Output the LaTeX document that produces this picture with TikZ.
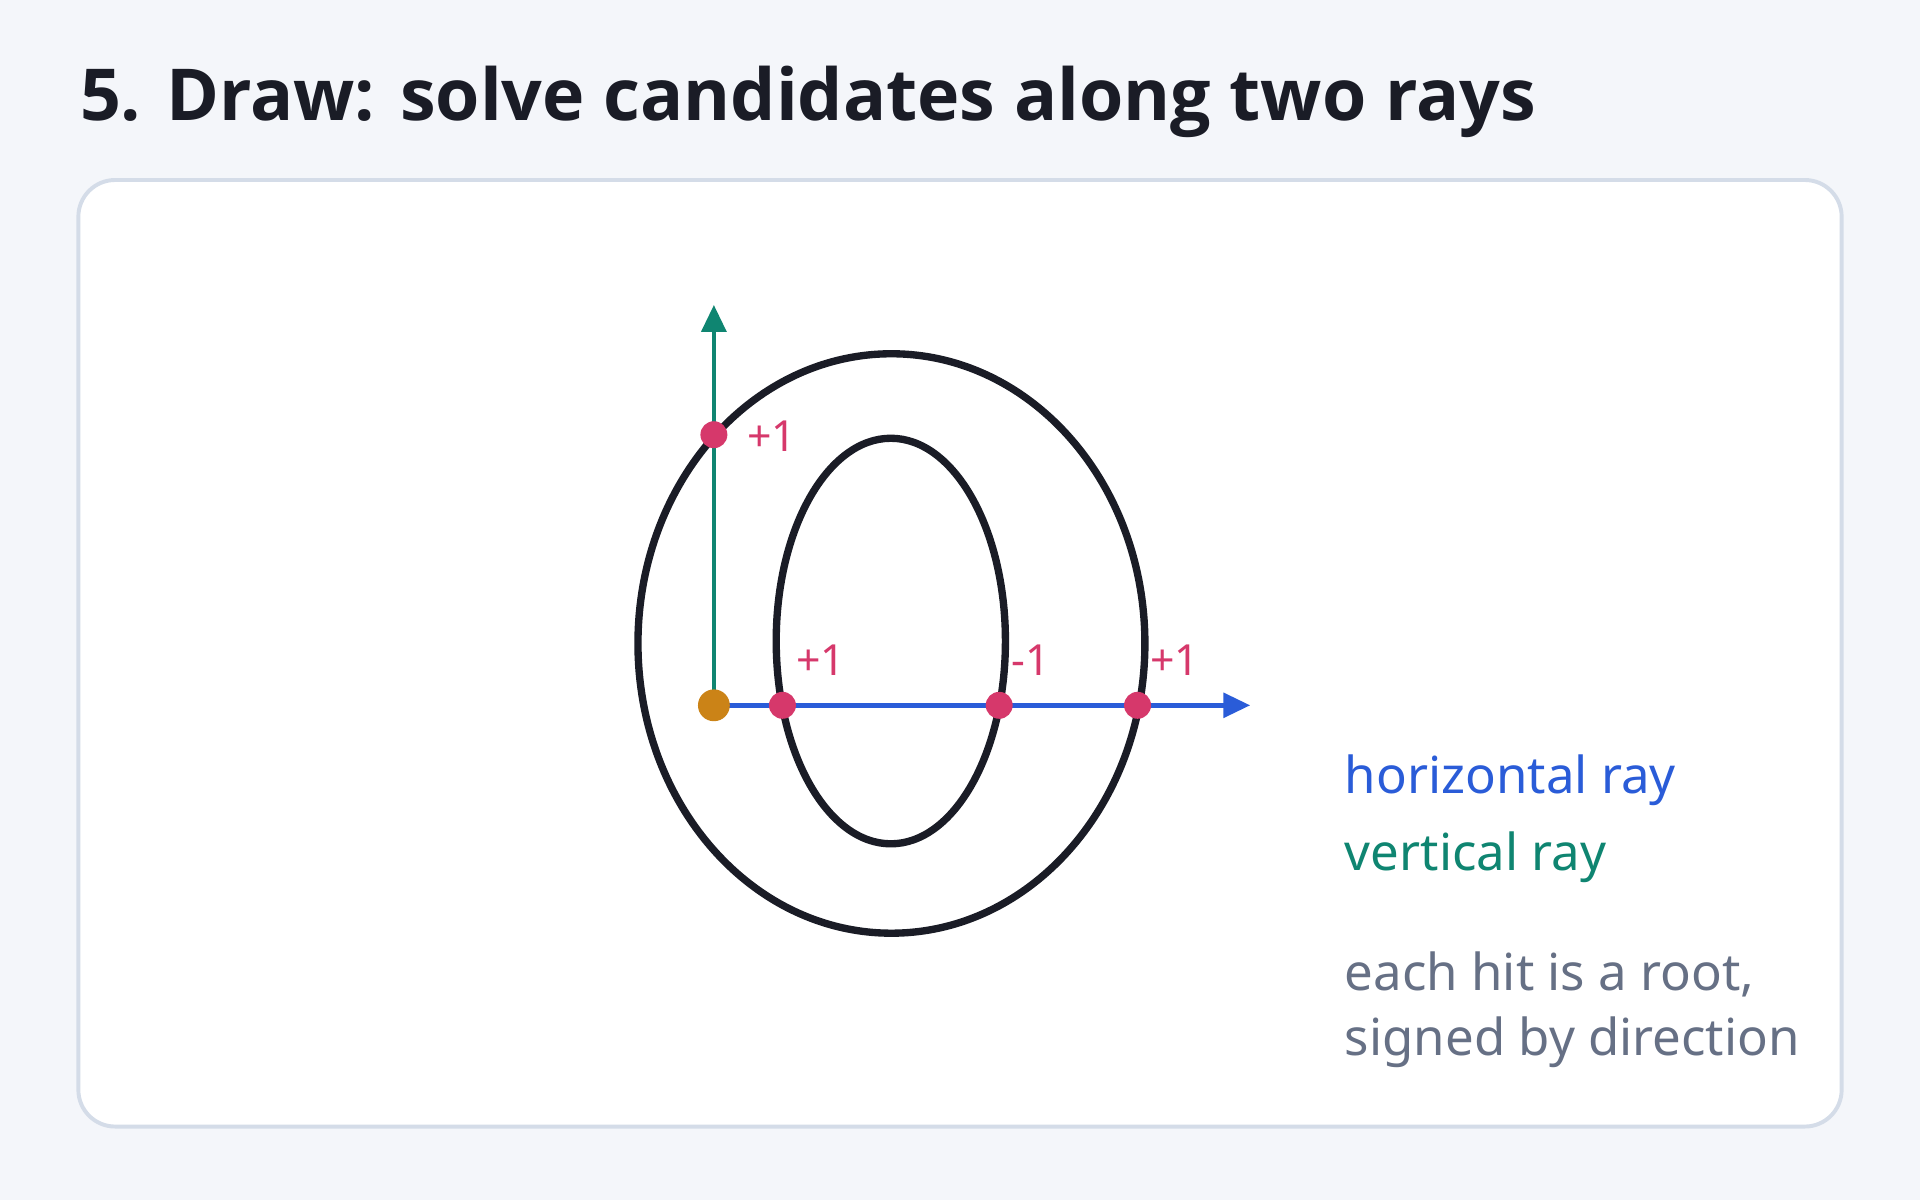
\documentclass[tikz,border=0pt]{standalone}
\usepackage{fontspec}
\setmainfont{Noto Sans}
\newfontfamily\headfont{Open Sans}
\usepackage{tikz}
\usetikzlibrary{arrows.meta, positioning, calc}
\definecolor{pagebg}{HTML}{F4F6FA}
\definecolor{cardline}{HTML}{D4DCE8}
\definecolor{inkdark}{HTML}{1A1C26}
\definecolor{rayblue}{HTML}{2A5CD8}
\definecolor{raygreen}{HTML}{0F8571}
\definecolor{hitred}{HTML}{D6386B}
\definecolor{srcorange}{HTML}{CB8317}
\definecolor{notegray}{HTML}{667085}
\tikzset{
    card/.style={
        draw=cardline,
        line width=1.6pt,
        fill=white,
        rounded corners=15pt
    },
    glyph/.style={draw=inkdark, line width=3pt},
    ray/.style={line width=1.9pt, -{Triangle[length=11pt, width=10pt]}},
    hray/.style={ray, draw=rayblue},
    vray/.style={ray, draw=raygreen},
    hit/.style={circle, fill=hitred, inner sep=0pt, minimum size=11pt},
    source/.style={circle, fill=srcorange, inner sep=0pt, minimum size=13pt},
    hitlabel/.style={anchor=base west, inner sep=0pt, text=hitred, font=\fontsize{17.5}{20}\selectfont},
    legend/.style={anchor=base west, inner sep=0pt, font=\fontsize{20.8}{26}\selectfont},
    heading/.style={anchor=base west, inner sep=0pt, text=inkdark, font=\headfont\fontsize{29.25}{34}\selectfont\bfseries}
}

\begin{document}
\begin{tikzpicture}[x=0.5pt, y=-0.5pt]

    % Background
    \fill[pagebg] (0,0) rectangle (1568,980);
    \useasboundingbox (0,0) rectangle (1568,980);
    \path[card] (64,147) rectangle (1504,920);

    % Title
    \node[heading] (title) at (65,98) {5. Draw: solve candidates along two rays};

    % Glyph outline
    \draw[glyph] (728,525.5) ellipse [x radius=103.5pt, y radius=118.3pt];
    \draw[glyph] (727.5,523.5) ellipse [x radius=46.8pt, y radius=82.8pt];

    % Rays
    \coordinate (o) at (583,576);
    \coordinate (htip) at (1021,576);
    \coordinate (vtip) at (583,249);
    \draw[hray] (o) -- (htip);
    \draw[vray] (o) -- (vtip);

    % Nodes
    \node[source] (src) at (o) {};
    \node[hit] (v1) at (583,355) {};
    \node[hit] (h1) at (639,576) {};
    \node[hit] (h2) at (816,576) {};
    \node[hit] (h3) at (929,576) {};

    % Signs
    \node[hitlabel] (v1sign) at ($(v1)+(27,14)$) {+1};
    \node[hitlabel] (h1sign) at ($(h1)+(11,-24)$) {+1};
    \node[hitlabel] (h2sign) at ($(h2)+(10,-24)$) {-1};
    \node[hitlabel] (h3sign) at ($(h3)+(10,-24)$) {+1};

    % Legend
    \node[legend, text=rayblue] (hkey) at (1098,648) {horizontal ray};
    \node[legend, text=raygreen] (vkey) at (1098,711) {vertical ray};
    \node[legend, text=notegray] (note1) at (1098,809) {each hit is a root,};
    \node[legend, text=notegray] (note2) at (1098,862) {signed by direction};

\end{tikzpicture}
\end{document}
